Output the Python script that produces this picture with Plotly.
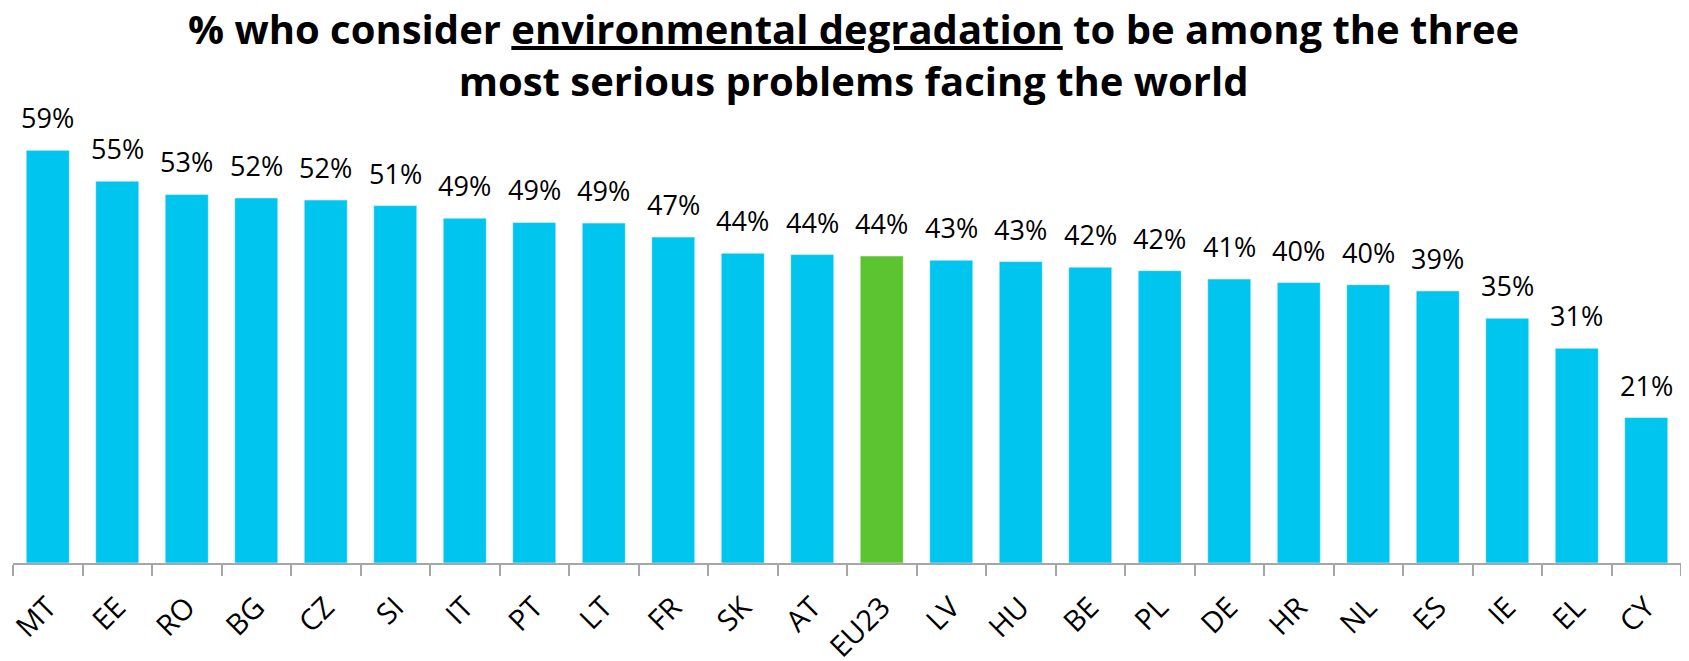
import plotly.graph_objects as go

# ------------------ DATA ------------------
countries = ["MT", "EE", "RO", "BG", "CZ", "SI", "IT", "PT", "LT", "FR", "SK", "AT",
             "EU23", "LV", "HU", "BE", "PL", "DE", "HR", "NL", "ES", "IE", "EL", "CY"]
values = [59.0, 54.6, 52.7, 52.2, 51.9, 51.1, 49.3, 48.7, 48.6, 46.6, 44.3, 44.1,
          43.9, 43.3, 43.1, 42.3, 41.8, 40.6, 40.1, 39.8, 38.9, 35.0, 30.7, 20.8]
labels = [f"{round(v)}%" for v in values]

BLUE = "#00C6EF"
GREEN = "#5CC431"
colors = [GREEN if c == "EU23" else BLUE for c in countries]

# ------------------ FIGURE ------------------
fig = go.Figure()

fig.add_trace(go.Bar(
    x=countries,
    y=values,
    marker=dict(color=colors, line=dict(color="rgba(255,255,255,0.5)", width=1)),
    hoverinfo="skip",
))

# value labels above bars
for c, v, t in zip(countries, values, labels):
    fig.add_annotation(
        x=c, y=v, text=t,
        xref="x", yref="y",
        showarrow=False,
        yanchor="bottom", yshift=12,
        font=dict(family="Open Sans", size=27, color="black"),
    )

# title as annotation (multi-line anchors correctly)
fig.add_annotation(
    text="<b>% who consider <u>environmental degradation</u> to be among the three"
         "<br>most serious problems facing the world</b>",
    x=0.5036, y=1.219, xref="paper", yref="paper",
    xanchor="center", yanchor="top",
    showarrow=False,
    font=dict(family="Open Sans", size=40, color="black"),
)

# ------------------ LAYOUT ------------------
# page body has an 8px margin, so the figure is offset by 8px from the window corner
fig.update_layout(
    width=1673,
    height=653,
    margin=dict(l=5, r=0, t=92, b=98),
    plot_bgcolor="white",
    paper_bgcolor="white",
    bargap=0.38,
    showlegend=False,
    xaxis=dict(
        type="category",
        automargin=False,
        tickson="boundaries",
        ticks="outside",
        ticklen=11,
        tickcolor="#a6a6a6",
        tickwidth=1.5,
        showline=True,
        linecolor="#a6a6a6",
        linewidth=1.5,
        showgrid=False,
        tickangle=-45,
        ticklabelstandoff=14,
        tickfont=dict(family="Open Sans", size=29, color="black"),
    ),
    yaxis=dict(
        visible=False,
        automargin=False,
        range=[0, 66.2],
        showgrid=False,
        zeroline=False,
    ),
)

fig.write_html("out.html")
